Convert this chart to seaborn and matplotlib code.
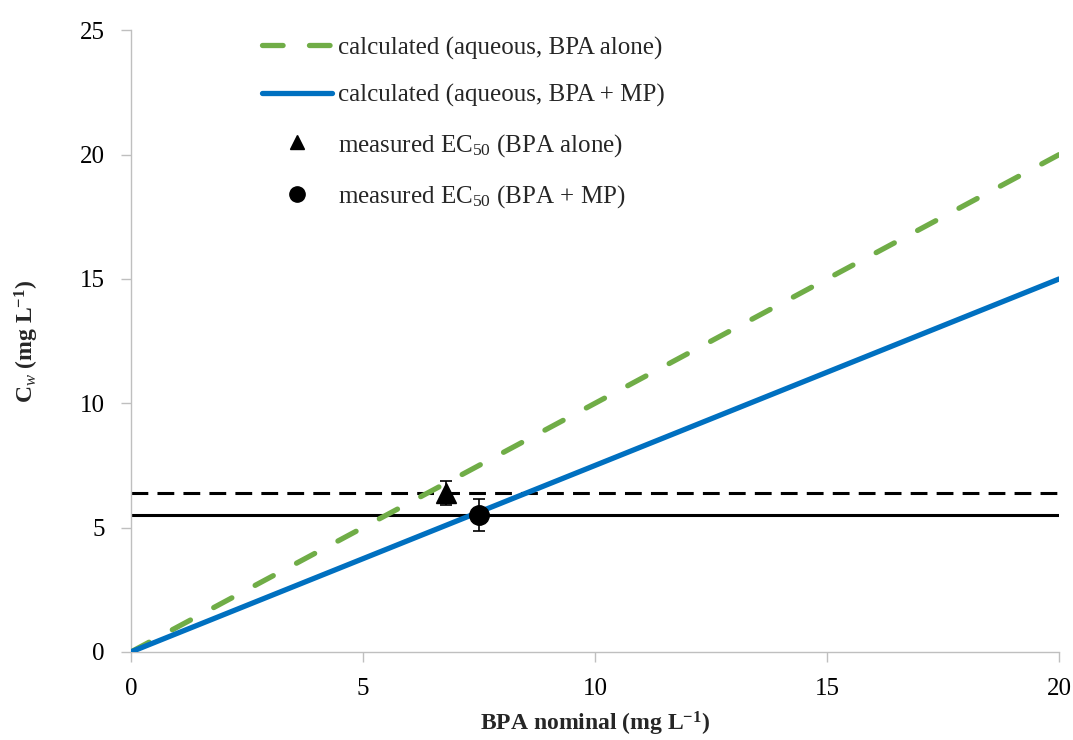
import numpy as np
import pandas as pd
import matplotlib
matplotlib.use("Agg")
import matplotlib.pyplot as plt
import seaborn as sns
from matplotlib.lines import Line2D

sns.set_theme(style="white")
plt.rcParams['font.family'] = ['Liberation Serif', 'DejaVu Serif']
plt.rcParams['mathtext.fontset'] = 'custom'
plt.rcParams['mathtext.rm'] = 'Liberation Serif'
plt.rcParams['mathtext.it'] = 'Liberation Serif:italic'
plt.rcParams['mathtext.bf'] = 'Liberation Serif:bold'

# Data
nominal = [0, 20]
calc_alone = [0, 20]
calc_mp = [0, 15]
ec50_alone_x, ec50_alone_y, ec50_alone_err = 6.8, 6.4, 0.48
ec50_mp_x, ec50_mp_y, ec50_mp_err = 7.5, 5.5, 0.65
hline_alone = 6.4
hline_mp = 5.5
xticks = [0, 5, 10, 15, 20]
yticks = [0, 5, 10, 15, 20, 25]

green = "#70AD47"
blue = "#0070C0"

fig = plt.figure(figsize=(10.73, 7.40), dpi=100)
ax = fig.add_axes([0.122, 0.119, 0.865, 0.840])

df = pd.DataFrame({"x": nominal, "alone": calc_alone, "mp": calc_mp})

ax.plot([0, 20], [hline_alone, hline_alone], color="black", lw=2.2, ls=(0, (5.5, 3.0)), zorder=2)
ax.plot([0, 20], [hline_mp, hline_mp], color="black", lw=2.2, zorder=2)

sns.lineplot(data=df, x="x", y="alone", ax=ax, color=green, lw=3.8, zorder=3)
ax.lines[-1].set_dashes([3.9, 5.0])
ax.lines[-1].set_dash_capstyle('round')
sns.lineplot(data=df, x="x", y="mp", ax=ax, color=blue, lw=3.8, zorder=3)

ax.errorbar([ec50_alone_x], [ec50_alone_y], yerr=[ec50_alone_err], fmt='^', color='black',
            ms=14, capsize=4.5, elinewidth=1.2, capthick=1.2, zorder=5)
ax.errorbar([ec50_mp_x], [ec50_mp_y], yerr=[ec50_mp_err], fmt='o', color='black',
            ms=14, capsize=4.5, elinewidth=1.2, capthick=1.2, zorder=5)

ax.set_xlim(0, 20)
ax.set_ylim(0, 25)
ax.set_xticks(xticks)
ax.set_yticks(yticks)
ax.tick_params(axis='both', labelsize=18, colors='black', length=7, width=1,
               direction='out', color='#BFBFBF', bottom=True, left=True, pad=12)
for s in ['top', 'right']:
    ax.spines[s].set_visible(False)
for s in ['left', 'bottom']:
    ax.spines[s].set_color('#BFBFBF')
    ax.spines[s].set_linewidth(1)

ax.set_xlabel(r"BPA nominal (mg L$^{\mathregular{-1}}$)", fontsize=17, fontweight='bold', labelpad=7)
ax.set_ylabel(r"C$_{w}$ (mg L$^{\mathregular{-1}}$)", fontsize=17, fontweight='bold', labelpad=28)

handles = [
    Line2D([], [], color=green, lw=3.8, dashes=[3.9, 5.0], dash_capstyle='round'),
    Line2D([], [], color=blue, lw=3.8),
    Line2D([], [], color='black', marker='^', ls='none', ms=10),
    Line2D([], [], color='black', marker='o', ls='none', ms=11),
]
labels = [
    "calculated (aqueous, BPA alone)",
    "calculated (aqueous, BPA + MP)",
    r"measured EC$_{\mathregular{50}}$ (BPA alone)",
    r"measured EC$_{\mathregular{50}}$ (BPA + MP)",
]
leg = ax.legend(handles, labels, loc='upper left', bbox_to_anchor=(0.141, 0.99), frameon=False,
                fontsize=18, handlelength=2.8, handletextpad=0.25, labelspacing=0.98,
                borderpad=0, borderaxespad=0)

fig.savefig("out.png", dpi=100)
